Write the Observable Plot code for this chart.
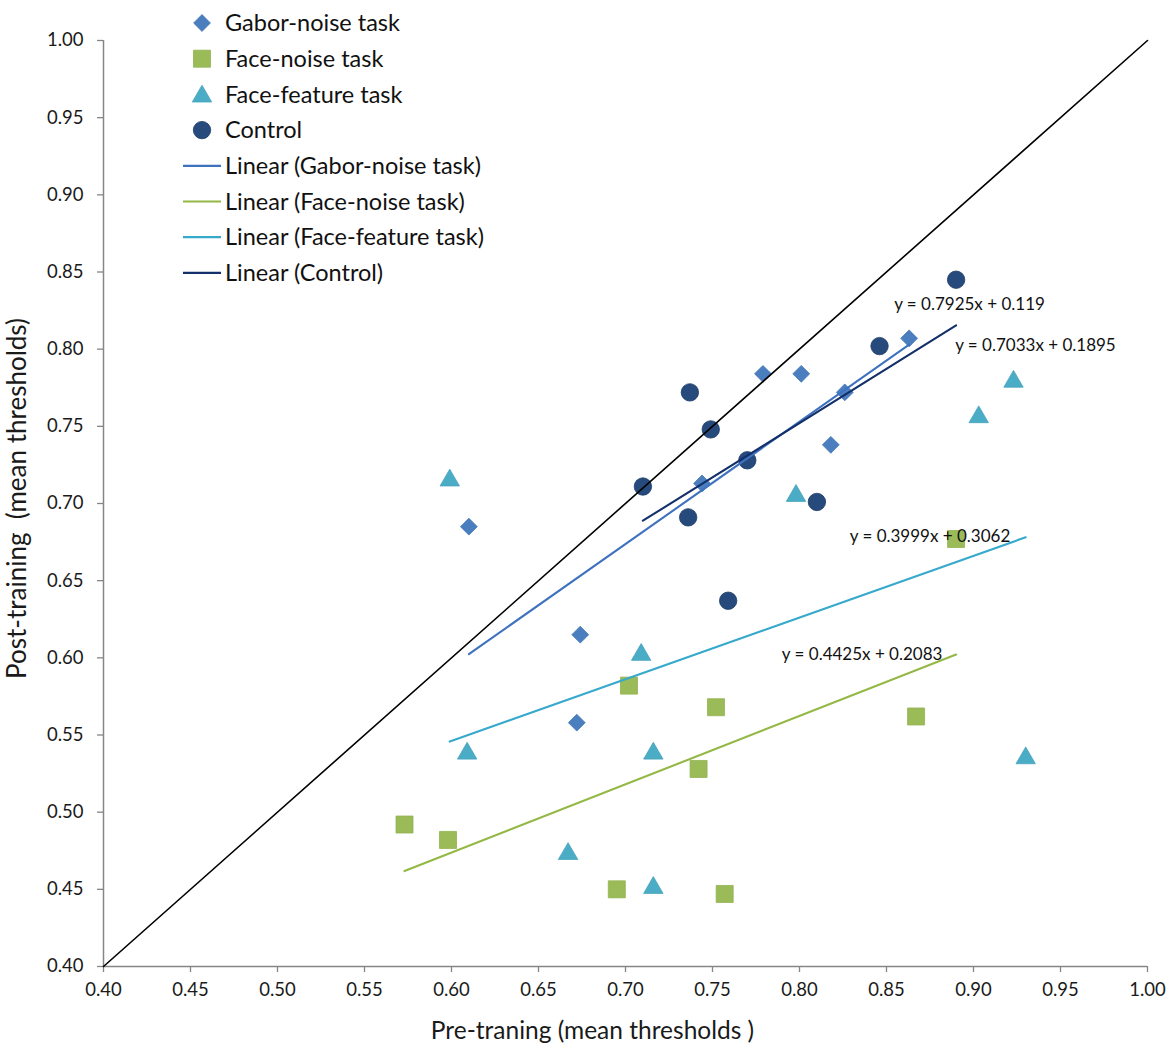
<!DOCTYPE html>
<html>
<head>
<meta charset="utf-8">
<script src="https://cdn.jsdelivr.net/npm/d3@7"></script>
<script src="https://cdn.jsdelivr.net/npm/@observablehq/plot@0.6"></script>
<style>
  body { margin: 0; background: #fff; }
  #wrap { position: relative; width: 1170px; height: 1054px; font-family: Lato, "Open Sans", sans-serif; }
  #legend { position: absolute; left: 0; top: 0; pointer-events: none; }
</style>
</head>
<body>
<div id="wrap"><div id="chart"></div><svg id="legend" width="600" height="300"></svg></div>
<script>
// ---- data ----
const gaborX     = [0.610, 0.674, 0.672, 0.744, 0.779, 0.801, 0.826, 0.818, 0.863];
const gaborY     = [0.685, 0.615, 0.558, 0.713, 0.784, 0.784, 0.772, 0.738, 0.807];
const faceNoiseX = [0.573, 0.598, 0.702, 0.752, 0.742, 0.695, 0.757, 0.867, 0.890];
const faceNoiseY = [0.492, 0.482, 0.582, 0.568, 0.528, 0.450, 0.447, 0.562, 0.677];
const faceFeatX  = [0.599, 0.609, 0.709, 0.716, 0.667, 0.716, 0.798, 0.903, 0.923, 0.930];
const faceFeatY  = [0.715, 0.538, 0.602, 0.538, 0.473, 0.451, 0.705, 0.756, 0.779, 0.535];
const controlX   = [0.710, 0.737, 0.749, 0.736, 0.770, 0.759, 0.810, 0.846, 0.890];
const controlY   = [0.711, 0.772, 0.748, 0.691, 0.728, 0.637, 0.701, 0.802, 0.845];

const seriesNames = ["Gabor-noise task", "Face-noise task", "Face-feature task", "Control"];
const trendSlopes     = [0.7925, 0.4425, 0.3999, 0.7033];
const trendIntercepts = [0.119, 0.2083, 0.3062, 0.1895];
const trendLabels = ["y = 0.7925x + 0.119", "y = 0.4425x + 0.2083", "y = 0.3999x + 0.3062", "y = 0.7033x + 0.1895"];
const trendLabelX = [0.8977, 0.836, 0.875, 0.9356];
const trendLabelY = [0.829, 0.602, 0.6786, 0.8024];

const xTicks = [0.40, 0.45, 0.50, 0.55, 0.60, 0.65, 0.70, 0.75, 0.80, 0.85, 0.90, 0.95, 1.00];
const yTicks = [0.40, 0.45, 0.50, 0.55, 0.60, 0.65, 0.70, 0.75, 0.80, 0.85, 0.90, 0.95, 1.00];
const xTitle = "Pre-traning (mean thresholds )";
const yTitle = "Post-training \u00a0(mean thresholds)";

// ---- styles ----
const markerFill = ["#4a7ebf", "#9bbb59", "#4bacc6", "#264a7c"];
const markerStroke = ["#4677b8", "#93b352", "#45a3bc", "#1d3b66"];
const lineColor = ["#3f72be", "#93b845", "#36a9cc", "#13306b"];
const symbols = ["diamond2", "square", "triangle", "circle"];
const radii = [7.6, 9.6, 7.2, 8.7];

// ---- build tables ----
const xs = [gaborX, faceNoiseX, faceFeatX, controlX];
const ys = [gaborY, faceNoiseY, faceFeatY, controlY];
const pts = seriesNames.map((name, i) => xs[i].map((x, j) => ({series: name, x, y: ys[i][j]})));
const trends = seriesNames.map((name, i) => {
  const [x0, x1] = d3.extent(xs[i]);
  return [x0, x1].map(x => ({series: name, x, y: trendSlopes[i] * x + trendIntercepts[i]}));
});
const labels = trendLabels.map((t, i) => ({text: t, x: trendLabelX[i], y: trendLabelY[i]}));
const identity = d3.extent(xTicks).map(v => ({x: v, y: v}));

const font = "Lato, 'Open Sans', sans-serif";
const axisGray = "#868686";

const chart = Plot.plot({
  width: 1170,
  height: 1054,
  marginLeft: 103,
  marginRight: 23,
  marginTop: 40,
  marginBottom: 88,
  style: {fontFamily: font, fontSize: "18.5px", color: "#1a1a1a", background: "#fff"},
  x: {domain: [0.4, 1], type: "linear"},
  y: {domain: [0.4, 1], type: "linear"},
  marks: [
    Plot.axisX({ticks: xTicks, tickFormat: d3.format(".2f"), tickSize: 6, tickPadding: 10, stroke: axisGray, strokeWidth: 1.3, label: null, fill: "#1a1a1a"}),
    Plot.axisY({ticks: yTicks, tickFormat: d3.format(".2f"), tickSize: 6, tickPadding: 14, stroke: axisGray, strokeWidth: 1.3, label: null, fill: "#1a1a1a"}),
    Plot.ruleX([0.4], {stroke: axisGray, strokeWidth: 1.5}),
    Plot.ruleY([0.4], {stroke: axisGray, strokeWidth: 1.5}),
    ...pts.map((d, i) => Plot.dot(d, {x: "x", y: "y", symbol: () => symbols[i], r: radii[i], fill: markerFill[i], stroke: markerStroke[i], strokeWidth: 0.8})),
    Plot.line(identity, {x: "x", y: "y", stroke: "#000", strokeWidth: 1.6}),
    ...trends.map((d, i) => Plot.line(d, {x: "x", y: "y", stroke: lineColor[i], strokeWidth: 2.1})),
    Plot.text(labels, {x: "x", y: "y", text: "text", fontSize: 17, fill: "#111", fontFamily: font}),
    Plot.text([xTitle], {frameAnchor: "bottom", textAnchor: "middle", lineAnchor: "middle", dx: -33, dy: 64.5, fontSize: 24.5, fill: "#1a1a1a"}),
    Plot.text([yTitle], {frameAnchor: "left", textAnchor: "middle", lineAnchor: "middle", dx: -86, dy: -5, rotate: -90, fontSize: 26, fill: "#1a1a1a"})
  ]
});
document.getElementById("chart").appendChild(chart);

// ---- legend (inside plot area, top-left) ----
const legendLabels = [...seriesNames, ...seriesNames.map(n => `Linear (${n})`)];
const lg = d3.select("#legend");
const rowY = i => 23 + i * 35.7;
const d3sym = {diamond2: d3.symbolDiamond2, square: d3.symbolSquare, triangle: d3.symbolTriangle, circle: d3.symbolCircle};
legendLabels.forEach((label, i) => {
  const y = rowY(i);
  if (i < 4) {
    const r = radii[i];
    lg.append("path")
      .attr("transform", `translate(202,${y + (symbols[i] === "triangle" ? 2 : 0)})`)
      .attr("d", d3.symbol(d3sym[symbols[i]], Math.PI * r * r)())
      .attr("fill", markerFill[i]).attr("stroke", markerStroke[i]).attr("stroke-width", 0.8);
  } else {
    lg.append("line").attr("x1", 183).attr("x2", 221).attr("y1", y).attr("y2", y)
      .attr("stroke", lineColor[i - 4]).attr("stroke-width", 2.2);
  }
  lg.append("text").attr("x", 225).attr("y", y).attr("dy", "0.35em")
    .attr("font-family", font).attr("font-size", 23.5).attr("fill", "#111").text(label);
});
</script>
</body>
</html>
